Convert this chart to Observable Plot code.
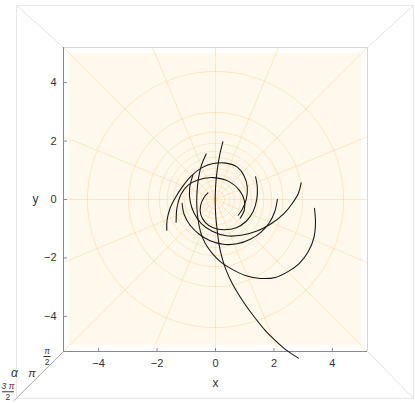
<!DOCTYPE html>
<html>
<head>
<meta charset="utf-8">
<script src="https://cdn.jsdelivr.net/npm/d3@7"></script>
<script src="https://cdn.jsdelivr.net/npm/@observablehq/plot@0.6"></script>
<style>
html,body{margin:0;padding:0;background:#fff;overflow:hidden}
#chart svg{display:block}
</style>
</head>
<body>
<div id="chart"></div>
<script>
// ---- tick values / labels ----
const xTicks = [-4, -2, 0, 2, 4];
const yTicks = [-4, -2, 0, 2, 4];
const alphaTickLabels = [
  {t: 0.0, num: "π", den: "2"},
  {t: 0.5, num: "π", den: null},
  {t: 1.0, num: "3 π", den: "2"}
];

// ---- polar grid ----
const gridRadii = [0.31, 0.48, 0.65, 0.86, 1.06, 1.23, 1.44, 1.65, 1.92, 2.30, 2.98, 4.38];
const spokeAngles = [0, 22.5, 45, 67.5, 90, 112.5, 135, 157.5, 180, 202.5, 225, 247.5, 270, 292.5, 315, 337.5];

// ---- curves (x, y) ----
const curveA = [[0.254,1.976],[0.144,1.520],[0.058,1.005],[0.007,0.491],[-0.010,-0.024],[0.007,-0.539],[0.058,-1.053],[0.127,-1.568],[0.230,-2.014],[0.367,-2.425],[0.573,-2.871],[0.813,-3.283],[1.087,-3.695],[1.396,-4.106],[1.705,-4.484],[2.014,-4.793],[2.357,-5.101],[2.597,-5.273],[2.837,-5.427]];
const curveB = [[-0.319,1.554],[-0.491,1.142],[-0.593,0.662],[-0.638,0.148],[-0.638,-0.264],[-0.593,-0.710],[-0.508,-1.122],[-0.353,-1.499],[-0.113,-1.842],[0.196,-2.151],[0.573,-2.391],[1.019,-2.597],[1.533,-2.700],[2.048,-2.666],[2.494,-2.460],[2.871,-2.185],[3.180,-1.774],[3.369,-1.293],[3.420,-0.779],[3.386,-0.298]];
const curveC = [[-0.775,0.834],[-0.885,0.388],[-0.868,-0.058],[-0.731,-0.470],[-0.491,-0.813],[-0.113,-1.087],[0.367,-1.242],[0.882,-1.225],[1.396,-1.087],[1.877,-0.847],[2.322,-0.504],[2.631,-0.127],[2.837,0.216],[2.930,0.569]];
const curveD = [[-1.142,-0.127],[-1.074,-0.504],[-0.868,-0.882],[-0.559,-1.190],[-0.182,-1.413],[0.264,-1.533],[0.744,-1.516],[1.190,-1.362],[1.568,-1.105],[1.842,-0.796],[2.031,-0.401],[2.117,0.010]];
const curveE = [[-1.667,-1.053],[-1.657,-0.710],[-1.554,-0.298],[-1.383,0.045],[-1.142,0.422],[-0.834,0.799],[-0.491,1.074],[-0.079,1.228],[0.367,1.245],[0.744,1.108],[0.985,0.799],[1.087,0.422],[1.053,0.010],[0.916,-0.333],[0.779,-0.539]];
const curveF = [[-1.348,-0.779],[-1.314,-0.264],[-1.177,0.182],[-0.937,0.491],[-0.628,0.662],[-0.079,0.748],[0.470,0.611],[0.813,0.319],[0.985,-0.024],[0.985,-0.367],[0.847,-0.642]];
const curveG = [[1.372,0.775],[1.431,0.422],[1.413,0.010],[1.293,-0.401],[1.053,-0.744],[0.710,-0.967],[0.298,-1.036],[-0.079,-0.967],[-0.353,-0.779],[-0.508,-0.504],[-0.508,-0.196],[-0.388,0.079],[-0.261,0.226]];

// ---- 3D box (outer face corners, in plot units) ----
const frameLim = 5.2;
const gridLim = 5.0;
const outerX = [-6.81, 6.77];
const outerY = [-6.80, 6.64];

const curves = {A: curveA, B: curveB, C: curveC, D: curveD, E: curveE, F: curveF, G: curveG};
const curveTable = Object.entries(curves).flatMap(([id, pts]) => pts.map(([x, y]) => ({id, x, y})));

const circleTable = gridRadii.flatMap(r => d3.range(0, 361, 2).map(a => ({r, x: r * Math.cos(a * Math.PI / 180), y: r * Math.sin(a * Math.PI / 180)})));
const spokeTable = spokeAngles.map(a => {
  const c = Math.cos(a * Math.PI / 180), s = Math.sin(a * Math.PI / 180);
  const L = frameLim / Math.max(Math.abs(c), Math.abs(s));
  return {x1: 0, y1: 0, x2: L * c, y2: L * s};
});

const W = 415, H = 403, mL = 63, mR = 48, mT = 47, mB = 52;
const k = (W - mL - mR) / (2 * frameLim); // px per unit
const px = v => v / k;

const outerSquare = [[outerX[0], outerY[1]], [outerX[1], outerY[1]], [outerX[1], outerY[0]], [outerX[0], outerY[0]], [outerX[0], outerY[1]]].map(([x, y]) => ({x, y}));
const connectors = [
  {x1: -frameLim, y1: frameLim, x2: outerX[0], y2: outerY[1]},
  {x1: frameLim, y1: frameLim, x2: outerX[1], y2: outerY[1]},
  {x1: frameLim, y1: -frameLim, x2: outerX[1], y2: outerY[0]}
];
const alphaAxis = {x1: -frameLim, y1: -frameLim, x2: outerX[0], y2: outerY[0]};
const aPos = t => ({x: alphaAxis.x1 + t * (alphaAxis.x2 - alphaAxis.x1), y: alphaAxis.y1 + t * (alphaAxis.y2 - alphaAxis.y1)});
const labelOffsets = [[-16.5, 5], [-8, -1.5], [-8.5, -6.5]];
const alphaLabels = alphaTickLabels.map((d, i) => {
  const p = aPos(d.t);
  return {...d, x: p.x + px(labelOffsets[i][0]), y: p.y - px(labelOffsets[i][1])};
});
const alphaTickMarks = alphaTickLabels.map(d => {
  const p = aPos(d.t);
  return {x1: p.x, y1: p.y, x2: p.x - px(2.5), y2: p.y - px(2.5)};
});

const fmt = d => d < 0 ? "\u2212" + (-d) : String(d);
const axisColor = "#8a8a8a";
const gridColor = "#ffd49a";
const font = "Liberation Sans, Arial, sans-serif";

const chart = Plot.plot({
  width: W, height: H,
  marginLeft: mL, marginRight: mR, marginTop: mT, marginBottom: mB,
  x: {domain: [-frameLim, frameLim], axis: null},
  y: {domain: [-frameLim, frameLim], axis: null},
  style: {fontFamily: font, fontSize: "11px", background: "#fff", overflow: "visible"},
  marks: [
    // 3D box edges
    Plot.line(outerSquare, {x: "x", y: "y", stroke: "#e6e6e6", strokeWidth: 1}),
    Plot.link(connectors, {x1: "x1", y1: "y1", x2: "x2", y2: "y2", stroke: "#e3e3e3", strokeWidth: 1}),
    // background plane
    Plot.rect([{}], {x1: -gridLim, x2: gridLim, y1: -gridLim, y2: gridLim, fill: "#fff9ed"}),
    // polar grid
    Plot.line(circleTable, {x: "x", y: "y", z: "r", stroke: gridColor, strokeOpacity: 0.6, strokeWidth: 0.9}),
    Plot.link(spokeTable, {x1: "x1", y1: "y1", x2: "x2", y2: "y2", stroke: gridColor, strokeOpacity: 0.6, strokeWidth: 0.9}),
    // frame
    Plot.ruleY([frameLim], {x1: -frameLim, x2: frameLim, stroke: "#d6d6d6"}),
    Plot.ruleX([frameLim], {y1: -frameLim, y2: frameLim, stroke: "#d6d6d6"}),
    Plot.ruleY([-frameLim], {x1: -frameLim, x2: frameLim, stroke: axisColor}),
    Plot.ruleX([-frameLim], {y1: -frameLim, y2: frameLim, stroke: axisColor}),
    // ticks (inward)
    Plot.link(xTicks, {x1: d => d, x2: d => d, y1: -frameLim, y2: -frameLim + px(3.5), stroke: axisColor}),
    Plot.link(yTicks, {y1: d => d, y2: d => d, x1: -frameLim, x2: -frameLim + px(3.5), stroke: axisColor}),
    Plot.text(xTicks, {x: d => d, y: -frameLim, dy: 12, text: fmt, fill: "#333", fontSize: 11}),
    Plot.text(yTicks, {x: -frameLim, y: d => d, dx: -7, text: fmt, textAnchor: "end", fill: "#333", fontSize: 11}),
    Plot.text(["x"], {x: 0, y: -frameLim, dy: 32, text: d => d, fill: "#333", fontSize: 12}),
    Plot.text(["y"], {x: -frameLim, y: 0, dx: -28, text: d => d, fill: "#333", fontSize: 12}),
    // alpha axis
    Plot.link([alphaAxis], {x1: "x1", y1: "y1", x2: "x2", y2: "y2", stroke: "#a8a8a8", strokeWidth: 1}),
    Plot.link(alphaTickMarks, {x1: "x1", y1: "y1", x2: "x2", y2: "y2", stroke: "#a8a8a8"}),
    Plot.text(alphaLabels.filter(d => !d.den), {x: "x", y: "y", text: "num", fill: "#333", fontSize: 11, fontStyle: "italic"}),
    Plot.text(alphaLabels.filter(d => d.den), {x: "x", y: "y", dy: -5.5, text: "num", fill: "#333", fontSize: 8.5, fontStyle: "italic"}),
    Plot.text(alphaLabels.filter(d => d.den), {x: "x", y: "y", dy: 5.5, text: "den", fill: "#333", fontSize: 8.5}),
    Plot.link(alphaLabels.filter(d => d.den), {x1: d => d.x - px(d.num.length > 1 ? 6 : 3.5), x2: d => d.x + px(d.num.length > 1 ? 6 : 3.5), y1: "y", y2: "y", stroke: "#333", strokeWidth: 1}),
    Plot.text(["α"], {x: alphaAxis.x1 + px(-49), y: alphaAxis.y1 - px(21.5), text: d => d, fill: "#333", fontSize: 12, fontStyle: "italic"}),
    // curves
    Plot.line(curveTable, {x: "x", y: "y", z: "id", curve: "catmull-rom", stroke: "#151515", strokeWidth: 1.05})
  ]
});
document.getElementById("chart").appendChild(chart);
</script>
</body>
</html>
